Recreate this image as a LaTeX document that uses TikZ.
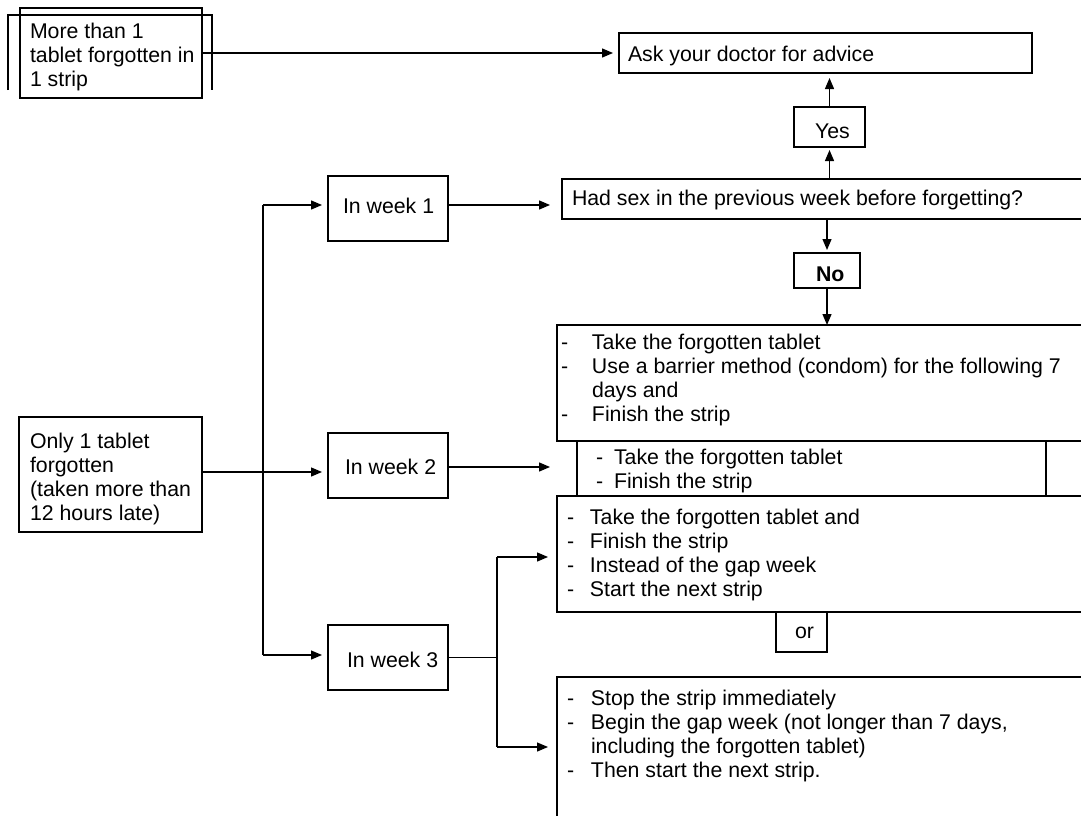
\documentclass[tikz,border=0pt]{standalone}
\usepackage{fontspec}
\setmainfont{Liberation Sans}
\usetikzlibrary{arrows.meta}
\begin{document}
\begin{tikzpicture}[x=1pt,y=-1pt,
  box/.style={draw, line width=1.3pt, rectangle, inner sep=0pt, outer sep=0pt, anchor=north west},
  txt/.style={anchor=base west, inner sep=0pt, outer sep=0pt, font=\fontsize{21.3}{24.3}\selectfont},
  arr/.style={line width=1.3pt, -{Triangle[length=11pt,width=9pt]}},
  ln/.style={line width=1.3pt}]
\useasboundingbox (0,0) rectangle (1081,816);
\clip (0,0) rectangle (1081,816);
\fill[white] (0,0) rectangle (1081,816);

% boxes
\node[box, minimum width=182pt, minimum height=90pt] (more) at (20,8) {};
\node[box, minimum width=413pt, minimum height=40pt] (ask) at (619,33) {};
\node[box, minimum width=71pt, minimum height=40pt] (yes) at (794,107) {};
\node[box, minimum width=533pt, minimum height=40pt] (hadsex) at (562,179) {};
\node[box, minimum width=66pt, minimum height=35pt] (no) at (794,253) {};
\node[box, minimum width=538pt, minimum height=116pt] (act1) at (557,325) {};
\node[box, minimum width=469pt, minimum height=55pt] (act2) at (577,441) {};
\node[box, minimum width=538pt, minimum height=116pt] (act3a) at (557,496) {};
\node[box, minimum width=51pt, minimum height=40pt] (or) at (776,612) {};
\node[box, minimum width=538pt, minimum height=160pt] (act3b) at (557,677) {};
\node[box, minimum width=120pt, minimum height=65pt] (w1) at (328,176) {};
\node[box, minimum width=120pt, minimum height=65pt] (w2) at (328,433) {};
\node[box, minimum width=120pt, minimum height=65pt] (w3) at (328,625) {};
\node[box, minimum width=183pt, minimum height=115pt] (only) at (19,417) {};

% bracket around the first box
\draw[ln] (8,90) -- (8,15) -- (212,15) -- (212,90);

% texts
\node[txt] (tmore) at (30,38) {\begin{tabular}[t]{@{}l@{}}More than 1\\tablet forgotten in\\1 strip\end{tabular}};
\node[txt] (task) at (628,62) {Ask your doctor for advice};
\node[txt] (tyes) at (815,138) {Yes};
\node[txt] (thad) at (572,205) {Had sex in the previous week before forgetting?};
\node[txt] (tno) at (816,281) {\bfseries No};
\node[txt] (tw1) at (343,213) {In week 1};
\node[txt] (tw2) at (345,474) {In week 2};
\node[txt] (tw3) at (347,667) {In week 3};
\node[txt] (tonly) at (30,448) {\begin{tabular}[t]{@{}l@{}}Only 1 tablet\\forgotten\\(taken more than\\12 hours late)\end{tabular}};
\node[txt] (tact1) at (561,349) {\begin{tabular}[t]{@{}p{31pt}@{}l@{}}-&Take the forgotten tablet\\-&Use a barrier method (condom) for the following 7\\&days and\\-&Finish the strip\end{tabular}};
\node[txt] (tact2) at (596,464) {\begin{tabular}[t]{@{}p{18pt}@{}l@{}}-&Take the forgotten tablet\\-&Finish the strip\end{tabular}};
\node[txt] (tact3a) at (567,524) {\begin{tabular}[t]{@{}p{23pt}@{}l@{}}-&Take the forgotten tablet and\\-&Finish the strip\\-&Instead of the gap week\\-&Start the next strip\end{tabular}};
\node[txt] (tor) at (795,638) {or};
\node[txt] (tact3b) at (567,705) {\begin{tabular}[t]{@{}p{24pt}@{}l@{}}-&Stop the strip immediately\\-&Begin the gap week (not longer than 7 days,\\&including the forgotten tablet)\\-&Then start the next strip.\end{tabular}};

% connectors
\draw[arr, shorten >=6pt] (more.east) -- (ask.west);
\draw[arr, shorten >=5pt] (yes.north) -- (ask.south -| yes.north);
\draw[arr, shorten >=3pt] (hadsex.north -| yes.south) -- (yes.south);
\draw[arr, shorten >=3pt] (hadsex.south -| no.north) -- (no.north);
\draw[arr] (no.south) -- (act1.north -| no.south);

\coordinate (w1o) at ([yshift=3.5pt]w1.east);
\draw[arr, shorten >=12pt] (w1o) -- (w1o -| hadsex.west);
\coordinate (w2o) at ([yshift=-1.5pt]w2.east);
\draw[arr, shorten >=27pt] (w2o) -- (w2o -| act2.west);

\coordinate (sp) at (497,657);
\coordinate (a3a) at ([yshift=-3pt]act3a.west);
\coordinate (a3b) at ([yshift=-70pt]act3b.north west);
\draw[ln] (w3.east) -- (w3.east -| sp);
\draw[ln] (a3a -| sp) -- (a3b -| sp);
\draw[arr, shorten >=9pt] (a3a -| sp) -- (a3a);
\draw[arr, shorten >=9pt] (a3b -| sp) -- (a3b);

\coordinate (tr) at (263,472);
\coordinate (oe) at ([yshift=2.5pt]only.east);
\coordinate (w1i) at ([yshift=3.5pt]w1.west);
\coordinate (w3i) at ([yshift=2.5pt]w3.west);
\draw[arr, shorten >=6pt] (oe) -- (oe -| w2.west);
\draw[ln] (tr |- w1i) -- (tr |- w3i);
\draw[arr, shorten >=6pt] (tr |- w1i) -- (w1i);
\draw[arr, shorten >=6pt] (tr |- w3i) -- (w3i);
\end{tikzpicture}
\end{document}
